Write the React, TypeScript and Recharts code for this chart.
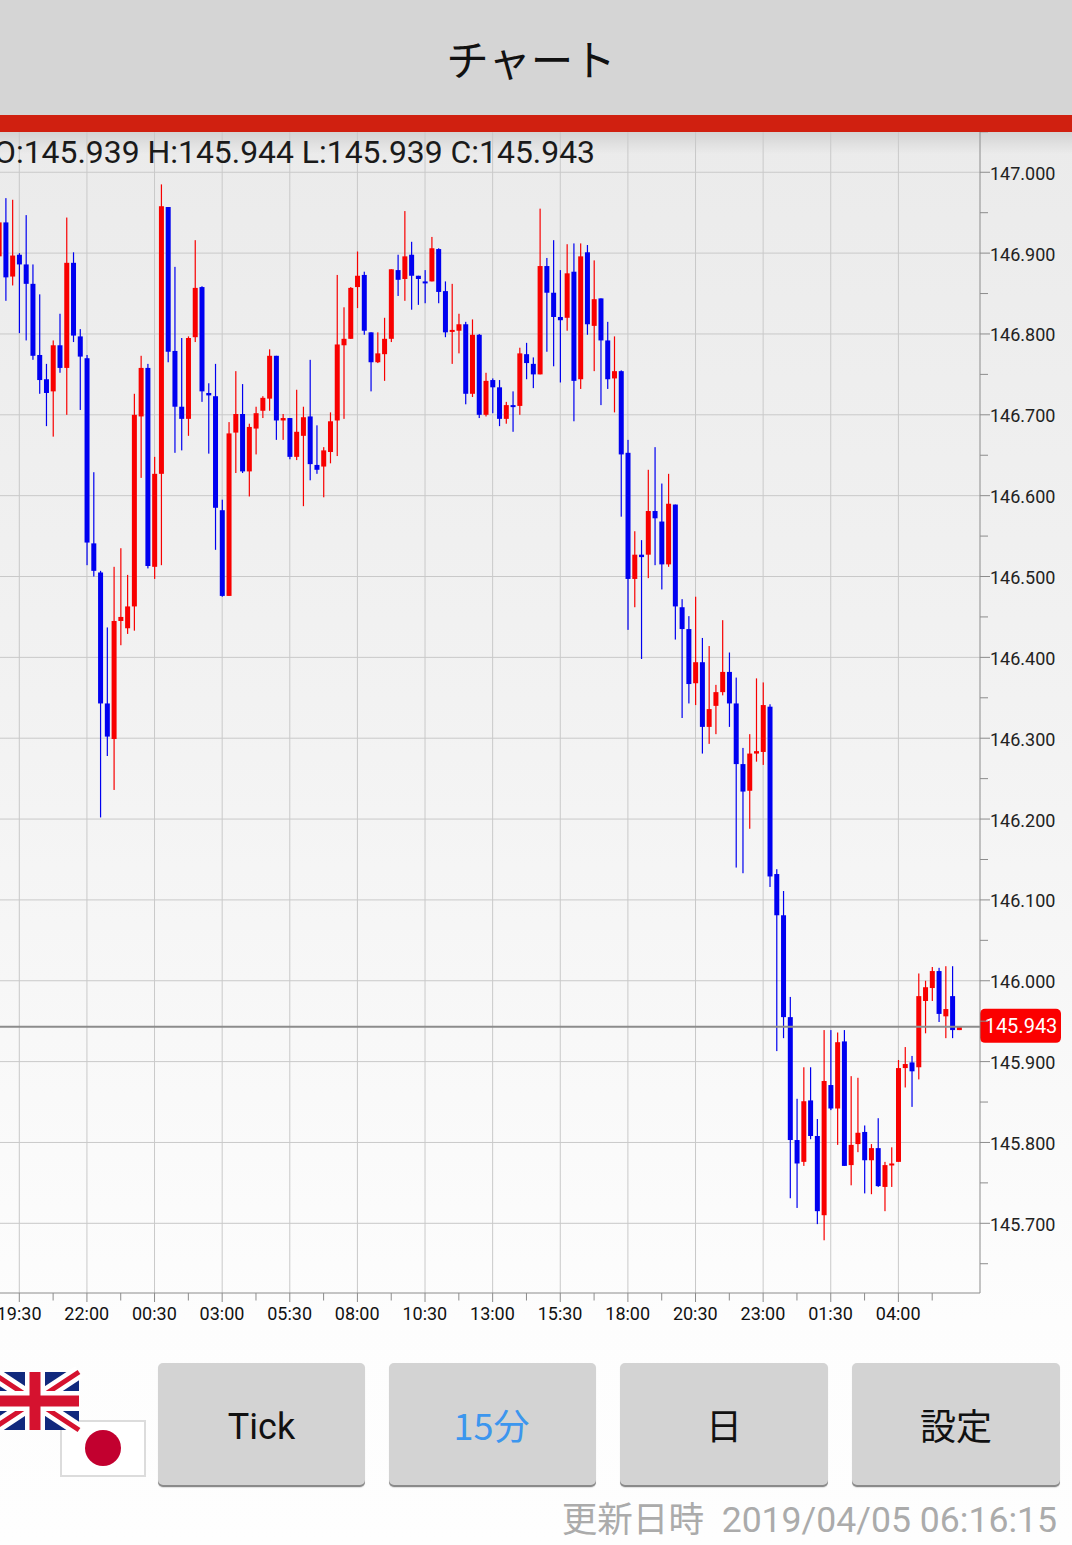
import React from "react";
import { ComposedChart, Bar, XAxis, YAxis, CartesianGrid, ReferenceLine } from "recharts";

const FONT = "Roboto, 'Noto Sans CJK JP', sans-serif";
const JP = "'Noto Sans CJK JP', Roboto, sans-serif";

// 15-minute candles, oldest first. The first candle sits just left of the 19:30 tick.
const firstBarIndex = -3;
const opens = [
  146.896, 146.938, 146.871,
  146.898, 146.886, 146.862, 146.774, 146.744, 146.729, 146.786, 146.758, 146.888, 146.797,
  146.770, 146.541, 146.505, 146.343, 146.299, 146.445, 146.436, 146.463, 146.698, 146.758,
  146.512, 146.627, 146.957, 146.779, 146.710, 146.695, 146.796, 146.858, 146.727, 146.723,
  146.582, 146.476, 146.678, 146.701, 146.630, 146.683, 146.705, 146.720, 146.773, 146.693,
  146.696, 146.648, 146.674, 146.698, 146.638, 146.636, 146.654, 146.693, 146.786, 146.794,
  146.858, 146.873, 146.802, 146.765, 146.775, 146.794, 146.879, 146.868, 146.898, 146.872,
  146.865, 146.865, 146.905, 146.853, 146.804, 146.804, 146.812, 146.726, 146.799, 146.700,
  146.743, 146.734, 146.695, 146.712, 146.711, 146.775, 146.763, 146.750, 146.884, 146.851,
  146.821, 146.820, 146.877, 146.744, 146.901, 146.810, 146.844, 146.792, 146.745, 146.754,
  146.653, 146.497, 146.527, 146.527, 146.581, 146.568, 146.515, 146.589, 146.462, 146.435,
  146.368, 146.394, 146.314, 146.340, 146.357, 146.382, 146.343, 146.268, 146.235, 146.281,
  146.283, 146.339, 146.132, 146.081, 145.955, 145.803, 145.776, 145.852, 145.808, 145.710,
  145.871, 145.842, 145.925, 145.772, 145.798, 145.813, 145.778, 145.793, 145.745, 145.772,
  145.776, 145.892, 145.899, 145.893, 145.975, 145.991, 146.012, 145.956, 145.981, 145.939,
];
const closes = [
  146.938, 146.870, 146.897,
  146.886, 146.862, 146.773, 146.743, 146.727, 146.786, 146.758, 146.888, 146.798, 146.772,
  146.542, 146.507, 146.343, 146.302, 146.445, 146.450, 146.463, 146.700, 146.758, 146.513,
  146.627, 146.958, 146.778, 146.710, 146.695, 146.795, 146.857, 146.729, 146.724, 146.585,
  146.476, 146.677, 146.701, 146.630, 146.685, 146.702, 146.721, 146.773, 146.693, 146.696,
  146.648, 146.679, 146.697, 146.639, 146.632, 146.656, 146.692, 146.787, 146.794, 146.857,
  146.872, 146.804, 146.765, 146.776, 146.794, 146.880, 146.867, 146.896, 146.872, 146.868,
  146.864, 146.906, 146.852, 146.802, 146.805, 146.812, 146.726, 146.799, 146.700, 146.742,
  146.734, 146.695, 146.712, 146.711, 146.776, 146.764, 146.750, 146.884, 146.851, 146.821,
  146.817, 146.875, 146.742, 146.896, 146.812, 146.843, 146.792, 146.744, 146.754, 146.651,
  146.497, 146.527, 146.524, 146.581, 146.572, 146.515, 146.590, 146.463, 146.435, 146.367,
  146.394, 146.314, 146.336, 146.357, 146.382, 146.343, 146.268, 146.234, 146.281, 146.284,
  146.341, 146.129, 146.081, 145.955, 145.803, 145.774, 145.851, 145.808, 145.715, 145.876,
  145.842, 145.924, 145.771, 145.797, 145.812, 145.778, 145.793, 145.746, 145.772, 145.774,
  145.892, 145.897, 145.888, 145.981, 145.992, 146.012, 145.959, 145.965, 145.939, 145.943,
];
const highs = [
  146.938, 146.968, 146.966,
  146.900, 146.947, 146.886, 146.849, 146.763, 146.792, 146.825, 146.944, 146.901, 146.806,
  146.774, 146.629, 146.507, 146.437, 146.512, 146.535, 146.502, 146.726, 146.773, 146.763,
  146.648, 146.985, 146.957, 146.883, 146.795, 146.797, 146.916, 146.859, 146.739, 146.763,
  146.595, 146.691, 146.754, 146.738, 146.689, 146.710, 146.723, 146.781, 146.773, 146.701,
  146.696, 146.731, 146.710, 146.768, 146.687, 146.660, 146.703, 146.873, 146.833, 146.858,
  146.902, 146.877, 146.802, 146.802, 146.820, 146.880, 146.898, 146.952, 146.914, 146.872,
  146.879, 146.920, 146.906, 146.865, 146.862, 146.825, 146.815, 146.818, 146.800, 146.752,
  146.745, 146.743, 146.716, 146.729, 146.783, 146.789, 146.771, 146.955, 146.894, 146.916,
  146.879, 146.911, 146.912, 146.912, 146.910, 146.891, 146.844, 146.815, 146.797, 146.755,
  146.669, 146.556, 146.545, 146.632, 146.660, 146.615, 146.627, 146.589, 146.472, 146.451,
  146.475, 146.424, 146.414, 146.366, 146.446, 146.406, 146.375, 146.288, 146.305, 146.374,
  146.369, 146.342, 146.138, 146.111, 145.980, 145.854, 145.893, 145.893, 145.829, 145.939,
  145.939, 145.936, 145.939, 145.882, 145.880, 145.821, 145.798, 145.830, 145.776, 145.794,
  145.902, 145.918, 145.907, 146.009, 146.000, 146.017, 146.016, 146.018, 146.018, 145.944,
];
const lows = [
  146.896, 146.841, 146.860,
  146.801, 146.792, 146.768, 146.726, 146.686, 146.673, 146.752, 146.700, 146.790, 146.706,
  146.514, 146.500, 146.202, 146.278, 146.236, 146.415, 146.429, 146.433, 146.622, 146.510,
  146.497, 146.514, 146.765, 146.653, 146.656, 146.674, 146.790, 146.716, 146.652, 146.533,
  146.475, 146.476, 146.628, 146.628, 146.599, 146.651, 146.696, 146.705, 146.669, 146.669,
  146.645, 146.644, 146.587, 146.619, 146.627, 146.598, 146.640, 146.649, 146.695, 146.794,
  146.832, 146.799, 146.729, 146.764, 146.742, 146.790, 146.847, 146.841, 146.830, 146.836,
  146.838, 146.865, 146.838, 146.796, 146.763, 146.776, 146.713, 146.722, 146.696, 146.698,
  146.702, 146.686, 146.689, 146.679, 146.700, 146.744, 146.733, 146.750, 146.778, 146.760,
  146.740, 146.804, 146.692, 146.732, 146.799, 146.754, 146.712, 146.732, 146.703, 146.574,
  146.434, 146.462, 146.398, 146.498, 146.514, 146.484, 146.512, 146.422, 146.325, 146.343,
  146.341, 146.281, 146.293, 146.305, 146.353, 146.314, 146.140, 146.133, 146.188, 146.271,
  146.267, 146.116, 145.913, 145.929, 145.731, 145.719, 145.771, 145.804, 145.699, 145.679,
  145.840, 145.797, 145.771, 145.747, 145.788, 145.737, 145.736, 145.745, 145.715, 145.745,
  145.776, 145.868, 145.844, 145.878, 145.935, 145.975, 145.949, 145.929, 145.929, 145.939,
];

const xTimeLabels = ["19:30", "22:00", "00:30", "03:00", "05:30", "08:00", "10:30", "13:00", "15:30", "18:00", "20:30", "23:00", "01:30", "04:00"];
const xTickIndexes = [0, 5, 10, 15, 20, 25, 30, 35, 40, 45, 50, 55, 60, 65, 70, 75, 80, 85, 90, 95, 100, 105, 110, 115, 120, 125, 130, 135];
const xGridIndexes = [0, 10, 20, 30, 40, 50, 60, 70, 80, 90, 100, 110, 120, 130];
const xDomain = [-5.812, 142.07];

const yDomain = [145.6138, 147.0498];
const yTicks = [
  145.65, 145.7, 145.75, 145.8, 145.85, 145.9, 145.95, 146.0, 146.05, 146.1, 146.15, 146.2, 146.25, 146.3, 146.35,
  146.4, 146.45, 146.5, 146.55, 146.6, 146.65, 146.7, 146.75, 146.8, 146.85, 146.9, 146.95, 147.0, 147.05,
];
const yGridValues = [145.7, 145.8, 145.9, 146.0, 146.1, 146.2, 146.3, 146.4, 146.5, 146.6, 146.7, 146.8, 146.9, 147.0];
const lastPrice = 145.943;

const headerTitle = "チャート";
const ohlcText = "O:145.939 H:145.944 L:145.939 C:145.943";
const buttonLabels = ["Tick", "15分", "日", "設定"];
const updatedText = "更新日時  2019/04/05 06:16:15";

const UP = "#f80000";
const DOWN = "#0000f0";
const AXIS = "#8c8c8c";
const GRID = "#c9c9c9";

const candles = opens.map((open, k) => ({
  index: k + firstBarIndex,
  open,
  close: closes[k],
  high: highs[k],
  low: lows[k],
  range: [lows[k], highs[k]],
}));

function Candle(props: any) {
  const { x, y, width, height, payload } = props;
  if (payload == null || height == null) return null;
  const { open, close, high, low } = payload;
  const perUnit = height / (high - low);
  const cx = x + width / 2;
  const top = y + (high - Math.max(open, close)) * perUnit;
  const bodyH = Math.max(Math.abs(open - close) * perUnit, 2);
  const color = close >= open ? UP : DOWN;
  return (
    <g>
      <rect x={cx - 0.6} y={y} width={1.2} height={height} fill={color} />
      <rect x={cx - width / 2} y={top} width={width} height={bodyH} fill={color} />
    </g>
  );
}

function XTick(props: any) {
  const { x, y, payload } = props;
  const pos = xGridIndexes.indexOf(payload.value);
  return (
    <g>
      <line x1={x} x2={x} y1={y} y2={y + (pos >= 0 ? 9 : 7.5)} stroke={AXIS} strokeWidth={1} />
      {pos >= 0 && (
        <text x={x - 0.2} y={y + 27} textAnchor="middle" fontFamily={FONT} fontSize={18} fill="#111">
          {xTimeLabels[pos]}
        </text>
      )}
    </g>
  );
}

function YTick(props: any) {
  const { x, y, payload } = props;
  const major = Math.round(payload.value * 1000) % 100 === 0;
  return (
    <g>
      <line x1={x} x2={x + (major ? 10 : 8)} y1={y} y2={y} stroke={AXIS} strokeWidth={1} />
      {major && (
        <text x={x + 10} y={y + 7.5} textAnchor="start" fontFamily={FONT} fontSize={18} fill="#222">
          {payload.value.toFixed(3)}
        </text>
      )}
    </g>
  );
}

function PriceBadge(props: any) {
  const vb = props.viewBox;
  if (!vb) return null;
  const right = vb.x + vb.width;
  return (
    <g>
      <rect x={right} y={vb.y - 18} width={81} height={34} rx={5} fill="#fb0000" />
      <text x={right + 41} y={vb.y + 6} textAnchor="middle" fontFamily={FONT} fontSize={20} fill="#fff">
        {lastPrice.toFixed(3)}
      </text>
    </g>
  );
}

const box = (left: number, top: number, width: number, height: number): React.CSSProperties => ({
  position: "absolute",
  left,
  top,
  width,
  height,
});

const buttonBoxes = [
  [158, 207],
  [389, 207],
  [620, 208],
  [852, 208],
];

export default function App() {
  return (
    <div style={{ ...box(0, 0, 1072, 1545), overflow: "hidden", background: "linear-gradient(#ebebeb 140px, #f2f2f2 700px, #fdfdfd 1320px, #fefefe 1545px)", fontFamily: FONT }}>
      <div style={{ ...box(0, 132, 1072, 22), background: "linear-gradient(rgba(0,0,0,0.10), rgba(0,0,0,0))" }} />
      <div style={{ ...box(-20, 0, 1092, 1345) }}>
        <ComposedChart width={1092} height={1345} data={candles} margin={{ top: 132, right: 0, bottom: 0, left: 0 }}>
          <CartesianGrid stroke={GRID} strokeWidth={1} horizontalValues={yGridValues} verticalValues={xGridIndexes} />
          <XAxis
            dataKey="index"
            type="number"
            domain={xDomain}
            allowDataOverflow
            ticks={xTickIndexes}
            interval={0}
            height={52}
            tickSize={0}
            tickMargin={0}
            tick={<XTick />}
            stroke={AXIS}
          />
          <YAxis
            orientation="right"
            type="number"
            domain={yDomain}
            allowDataOverflow
            ticks={yTicks}
            interval={0}
            width={92}
            tickSize={0}
            tickMargin={0}
            tick={<YTick />}
            stroke={AXIS}
          />
          <Bar dataKey="range" barSize={5} shape={<Candle />} isAnimationActive={false} />
          <ReferenceLine y={lastPrice} stroke={AXIS} strokeWidth={2} label={PriceBadge} />
        </ComposedChart>
      </div>

      <div style={{ ...box(0, 0, 1072, 115), background: "#d5d5d5" }} />
      <div style={{ ...box(0, 0, 1072, 115), display: "flex", alignItems: "center", justifyContent: "center" }}>
        <span style={{ fontFamily: JP, fontSize: 42.5, color: "#111", marginLeft: -10 }}>{headerTitle}</span>
      </div>
      <div style={{ ...box(0, 115, 1072, 17), background: "#d02010" }} />
      <div style={{ position: "absolute", left: -6, top: 133, fontSize: 31.9, lineHeight: "38px", color: "#1a1a1a", whiteSpace: "nowrap", fontFamily: FONT }}>{ohlcText}</div>

      <svg style={{ ...box(0, 1360, 160, 125) }} viewBox="0 0 160 125">
        <rect x={61} y={61} width={84} height={55} fill="#fff" stroke="#dcdcdc" strokeWidth={2} />
        <circle cx={103} cy={88} r={18} fill="#c2002f" />
        <g transform="translate(-9 12)">
          <rect width={88} height={58} fill="#11297d" />
          <path d="M0 0L88 58M88 0L0 58" stroke="#fff" strokeWidth={14} />
          <path d="M0 0L88 58M88 0L0 58" stroke="#d5122f" strokeWidth={5} />
          <path d="M44 0V58M0 29H88" stroke="#fff" strokeWidth={20} />
          <path d="M44 0V58M0 29H88" stroke="#d5122f" strokeWidth={11} />
        </g>
      </svg>

      {buttonLabels.map((label, k) => (
        <div
          key={label}
          style={{
            ...box(buttonBoxes[k][0], 1363, buttonBoxes[k][1], 124),
            background: "#d3d3d3",
            borderRadius: 5,
            boxShadow: "inset 0 -2px 0 #8a8a8a, 0 1px 1px rgba(0,0,0,0.12)",
            boxSizing: "border-box",
            display: "flex",
            alignItems: "center",
            justifyContent: "center",
            paddingTop: k === 0 ? 3 : 0,
            paddingBottom: k === 0 ? 0 : 2,
            paddingRight: k === 1 ? 2 : 0,
            fontFamily: k === 0 ? FONT : JP,
            fontSize: 36,
            color: k === 1 ? "#3c96ee" : "#111",
          }}
        >
          {label}
        </div>
      ))}

      <div style={{ position: "absolute", right: 15, top: 1496, fontSize: 35.6, lineHeight: "48px", color: "#ababab", whiteSpace: "pre", fontFamily: FONT }}>{updatedText}</div>
    </div>
  );
}
